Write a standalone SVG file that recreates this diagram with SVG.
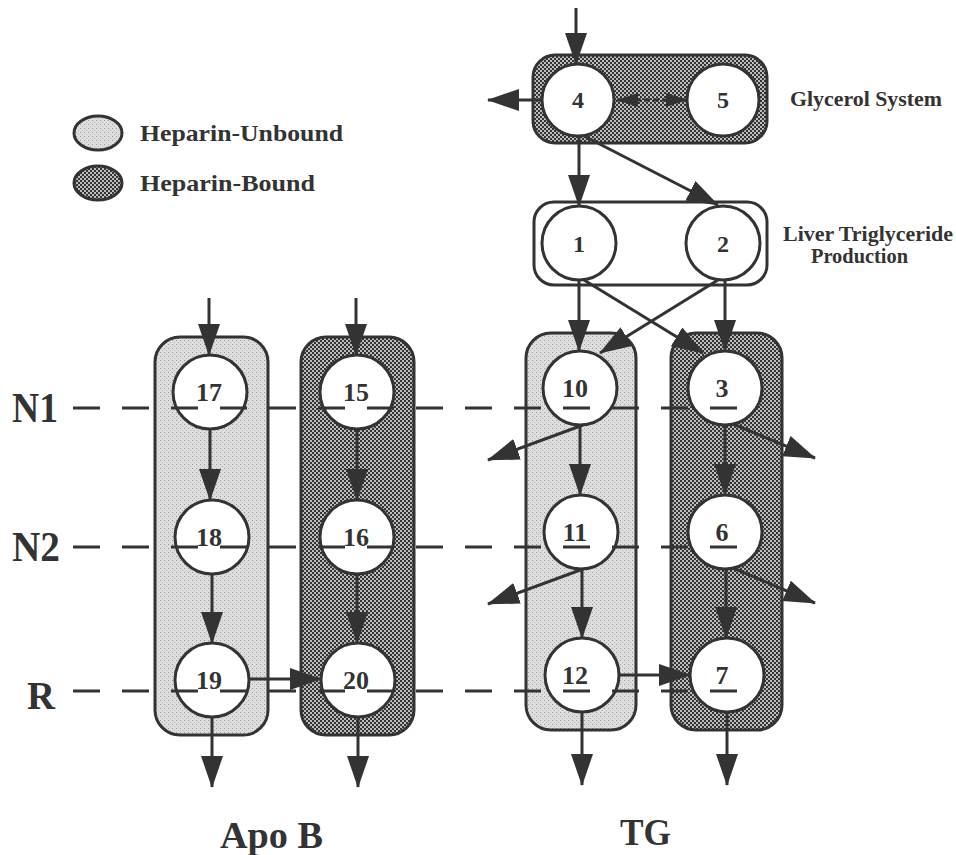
<svg xmlns="http://www.w3.org/2000/svg" width="956" height="855" viewBox="0 0 956 855">
<defs>
<pattern id="pb" width="4" height="4" patternUnits="userSpaceOnUse"><rect width="4" height="4" fill="#bdbdbd"/><rect width="2" height="2" fill="#333"/><rect x="2" y="2" width="2" height="2" fill="#333"/></pattern>
<pattern id="pu" width="4" height="4" patternUnits="userSpaceOnUse"><rect width="4" height="4" fill="#dedede"/><rect width="1" height="1" fill="#9a9a9a"/><rect x="2" y="2" width="1" height="1" fill="#b4b4b4"/></pattern>
<marker id="ah" viewBox="0 0 32 22" refX="31" refY="11" markerWidth="32" markerHeight="22" markerUnits="userSpaceOnUse" orient="auto"><path d="M0,0 L32,11 L0,22 Z" fill="#333"/></marker>
<marker id="sm" viewBox="0 0 22 14" refX="21" refY="7" markerWidth="22" markerHeight="14" markerUnits="userSpaceOnUse" orient="auto-start-reverse"><path d="M0,0 L22,7 L0,14 Z" fill="#333"/></marker>
</defs>
<style>
.box{stroke:#333;stroke-width:3}
.nd{fill:#fff;stroke:#333;stroke-width:3}
.num{font-family:"Liberation Serif","Times New Roman",serif;font-weight:bold;font-size:26px;fill:#333;text-anchor:middle}
.num2{font-family:"Liberation Serif","Times New Roman",serif;font-weight:bold;font-size:24px;fill:#333;text-anchor:middle}
.lbl{font-family:"Liberation Serif","Times New Roman",serif;font-weight:bold;fill:#333}
.c{fill:none;stroke:#333;stroke-width:3;marker-end:url(#ah)}
.lv{fill:none;stroke:#333;stroke-width:3;stroke-dasharray:27 22}
</style>
<rect width="956" height="855" fill="#fff"/>

<g id="legend">
<ellipse cx="98" cy="133" rx="24" ry="17" fill="url(#pu)" class="box"/>
<text x="140" y="141" class="lbl" font-size="23" textLength="203" lengthAdjust="spacingAndGlyphs">Heparin-Unbound</text>
<ellipse cx="98" cy="183" rx="24" ry="17" fill="url(#pb)" class="box"/>
<text x="140" y="191" class="lbl" font-size="23" textLength="175" lengthAdjust="spacingAndGlyphs">Heparin-Bound</text>
</g>

<g id="glycerol-system">
<rect x="533" y="55" width="234" height="88" rx="22" fill="url(#pb)" class="box"/>
<text x="790" y="106" class="lbl" font-size="21" textLength="152" lengthAdjust="spacingAndGlyphs">Glycerol System</text>
</g>
<g id="liver-production">
<rect x="534" y="202" width="233" height="83" rx="20" fill="#fff" class="box"/>
<text x="783" y="241" class="lbl" font-size="21" textLength="170" lengthAdjust="spacingAndGlyphs">Liver Triglyceride</text>
<text x="811" y="263" class="lbl" font-size="21" textLength="97" lengthAdjust="spacingAndGlyphs">Production</text>
</g>
<g id="apob-unbound"><rect x="155" y="337" width="113" height="398" rx="25" fill="url(#pu)" class="box"/></g>
<g id="apob-bound"><rect x="301" y="337" width="113" height="398" rx="25" fill="url(#pb)" class="box"/></g>
<g id="tg-unbound"><rect x="526" y="333" width="110" height="397" rx="25" fill="url(#pu)" class="box"/></g>
<g id="tg-bound"><rect x="671" y="333" width="111" height="397" rx="25" fill="url(#pb)" class="box"/></g>

<g id="n4"><circle cx="578" cy="100" r="36" class="nd"/><text x="578" y="108" class="num2">4</text></g>
<g id="n5"><circle cx="723" cy="100" r="36" class="nd"/><text x="723" y="108" class="num2">5</text></g>
<g id="n1"><circle cx="579" cy="243" r="37" class="nd"/><text x="579" y="252" class="num2">1</text></g>
<g id="n2"><circle cx="723" cy="243" r="37" class="nd"/><text x="723" y="252" class="num2">2</text></g>

<g id="n17"><circle cx="210" cy="392" r="37" class="nd"/><text x="209" y="401" class="num">17</text></g>
<g id="n18"><circle cx="212" cy="537" r="37" class="nd"/><text x="209" y="546" class="num">18</text></g>
<g id="n19"><circle cx="212" cy="680" r="37" class="nd"/><text x="209" y="689" class="num">19</text></g>
<g id="n15"><circle cx="357" cy="392" r="37" class="nd"/><text x="356" y="401" class="num">15</text></g>
<g id="n16"><circle cx="357" cy="537" r="37" class="nd"/><text x="356" y="546" class="num">16</text></g>
<g id="n20"><circle cx="358" cy="680" r="37" class="nd"/><text x="356" y="689" class="num">20</text></g>

<g id="n10"><circle cx="580" cy="388" r="37" class="nd"/><text x="575" y="397" class="num">10</text></g>
<g id="n11"><circle cx="581" cy="532" r="37" class="nd"/><text x="575" y="541" class="num">11</text></g>
<g id="n12"><circle cx="582" cy="675" r="37" class="nd"/><text x="575" y="684" class="num">12</text></g>
<g id="n3"><circle cx="725" cy="388" r="37" class="nd"/><text x="722" y="397" class="num">3</text></g>
<g id="n6"><circle cx="725" cy="532" r="37" class="nd"/><text x="722" y="541" class="num">6</text></g>
<g id="n7"><circle cx="727" cy="675" r="37" class="nd"/><text x="722" y="684" class="num">7</text></g>

<g id="levels">
<text x="12" y="422" class="lbl" font-size="42" textLength="46" lengthAdjust="spacingAndGlyphs">N1</text>
<text x="12" y="561" class="lbl" font-size="42" textLength="48" lengthAdjust="spacingAndGlyphs">N2</text>
<text x="27" y="709" class="lbl" font-size="40" textLength="28" lengthAdjust="spacingAndGlyphs">R</text>
<path d="M73 408 H737" class="lv"/>
<path d="M73 547 H737" class="lv"/>
<path d="M73 691 H737" class="lv"/>
</g>

<g id="connectors">
<path d="M576 8 V64" class="c"/>
<path d="M542 100 H488" class="c"/>
<path d="M617 100 H687" fill="none" stroke="#333" stroke-width="3" stroke-dasharray="6 3" marker-start="url(#sm)" marker-end="url(#sm)"/>
<path d="M579 136 V206" class="c"/>
<path d="M584 136 L718 205" class="c"/>
<path d="M579 280 V351" class="c"/>
<path d="M725 280 V351" class="c"/>
<path d="M584 280 L703 353" class="c"/>
<path d="M718 280 L600 353" class="c"/>
<path d="M583 425 L488 460" class="c"/>
<path d="M733 424 L815 458" class="c"/>
<path d="M580 425 V495" class="c"/>
<path d="M725 425 V495" class="c"/>
<path d="M583 569 L488 604" class="c"/>
<path d="M733 568 L815 603" class="c"/>
<path d="M582 569 V638" class="c"/>
<path d="M726 569 V638" class="c"/>
<path d="M619 675 H690" class="c"/>
<path d="M582 712 V785" class="c"/>
<path d="M727 712 V785" class="c"/>
<path d="M209 298 V355" class="c"/>
<path d="M356 298 V355" class="c"/>
<path d="M210 429 V500" class="c"/>
<path d="M357 429 V500" class="c"/>
<path d="M212 574 V643" class="c"/>
<path d="M357 574 V643" class="c"/>
<path d="M249 679 H321" class="c"/>
<path d="M212 717 V787" class="c"/>
<path d="M358 717 V787" class="c"/>
</g>

<g id="titles">
<text x="220" y="848" class="lbl" font-size="38" textLength="103" lengthAdjust="spacingAndGlyphs">Apo B</text>
<text x="620" y="845" class="lbl" font-size="37" textLength="51" lengthAdjust="spacingAndGlyphs">TG</text>
</g>
</svg>
